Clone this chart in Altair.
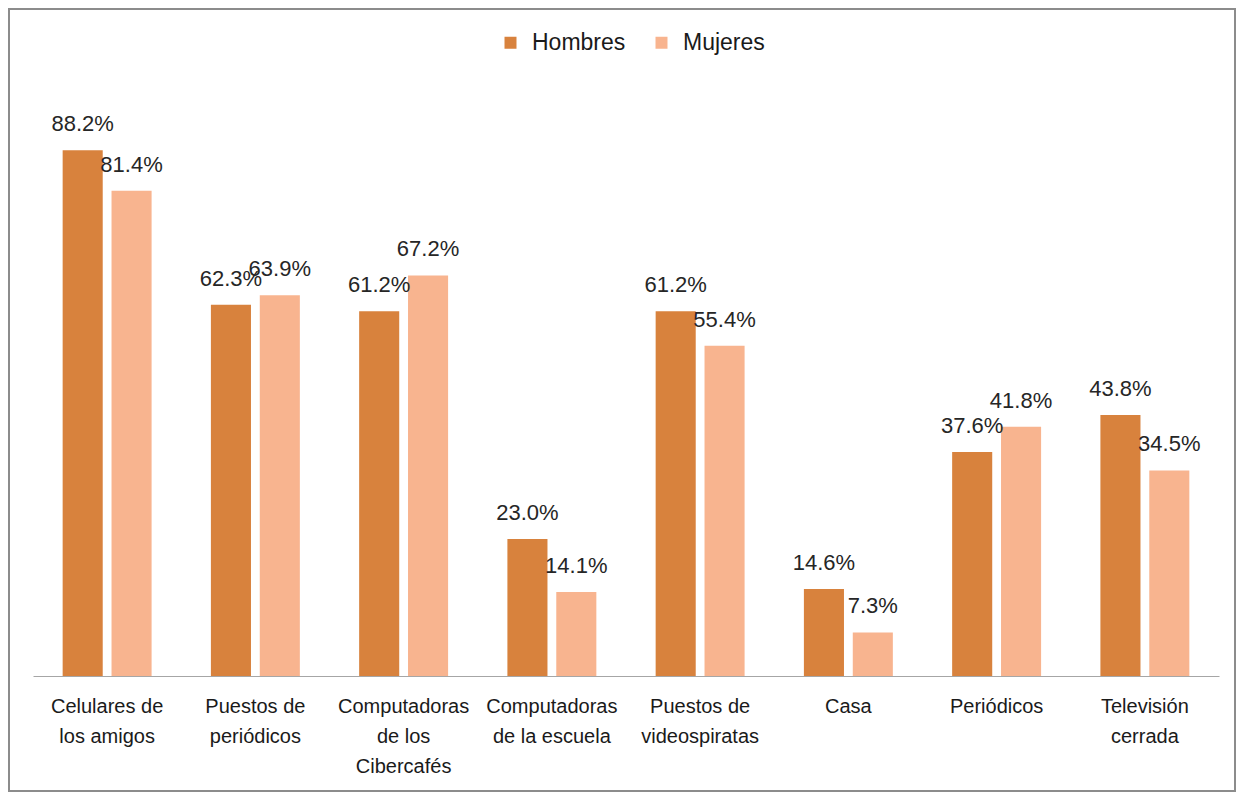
import altair as alt
import pandas as pd

categories = [
    "Celulares de|los amigos",
    "Puestos de|periódicos",
    "Computadoras|de los|Cibercafés",
    "Computadoras|de la escuela",
    "Puestos de|videospiratas",
    "Casa",
    "Periódicos",
    "Televisión|cerrada",
]
series = ["Hombres", "Mujeres"]
hombres = [88.2, 62.3, 61.2, 23.0, 61.2, 14.6, 37.6, 43.8]
mujeres = [81.4, 63.9, 67.2, 14.1, 55.4, 7.3, 41.8, 34.5]
colors = ["#D8823D", "#F8B48F"]

rows = []
for i, c in enumerate(categories):
    rows.append({"cat": c, "sexo": "Hombres", "value": hombres[i]})
    rows.append({"cat": c, "sexo": "Mujeres", "value": mujeres[i]})
df = pd.DataFrame(rows)

FONT = "Liberation Sans"
W, H = 1186, 596

base = alt.Chart(df).transform_calculate(
    label="format(datum.value, '.1f') + '%'"
)

x = alt.X(
    "cat:N",
    sort=categories,
    title=None,
    scale=alt.Scale(paddingInner=0.4, paddingOuter=0.2),
    axis=alt.Axis(
        labelExpr="split(datum.label, '|')",
        labelAngle=0,
        labelFontSize=20,
        labelFont=FONT,
        labelColor="#1a1a1a",
        labelLineHeight=30,
        labelPadding=20,
        labelLimit=300,
        labelOverlap=False,
        ticks=False,
        domainColor="#A6A6A6",
        domainWidth=1,
        grid=False,
    ),
)
xo = alt.XOffset("sexo:N", sort=series, scale=alt.Scale(paddingInner=0.18, paddingOuter=0))
y = alt.Y("value:Q", axis=None, scale=alt.Scale(domain=[0, 100]))

bars = base.mark_bar().encode(
    x=x,
    xOffset=xo,
    y=y,
    color=alt.Color(
        "sexo:N",
        sort=series,
        scale=alt.Scale(domain=series, range=colors),
        legend=alt.Legend(
            title=None,
            orient="none",
            direction="horizontal",
            legendX=466,
            legendY=-49,
            symbolType="square",
            symbolSize=144,
            symbolStrokeWidth=0,
            labelFontSize=23,
            labelFont=FONT,
            labelColor="#1a1a1a",
            labelOffset=10,
            columnPadding=24,
        ),
    ),
)

texts = base.mark_text(
    baseline="alphabetic", dy=-19, fontSize=22, font=FONT, color="#262626"
).encode(x=x, xOffset=xo, y=y, text="label:N")

frame = alt.Chart(pd.DataFrame({"a": [0]})).mark_rect(
    fillOpacity=0, stroke="#8C8C8C", strokeWidth=2
).encode(
    x=alt.value(-24), x2=alt.value(W + 16), y=alt.value(-71), y2=alt.value(H + 115)
)

chart = alt.layer(frame, bars, texts).properties(
    width=W,
    height=H,
    background="white",
    padding={"left": 25, "right": 17, "top": 72, "bottom": 116},
    autosize=alt.AutoSizeParams(type="none"),
).configure_view(strokeWidth=0, stroke="transparent")

chart.save("out.html", embed_options={"renderer": "svg", "actions": False})
